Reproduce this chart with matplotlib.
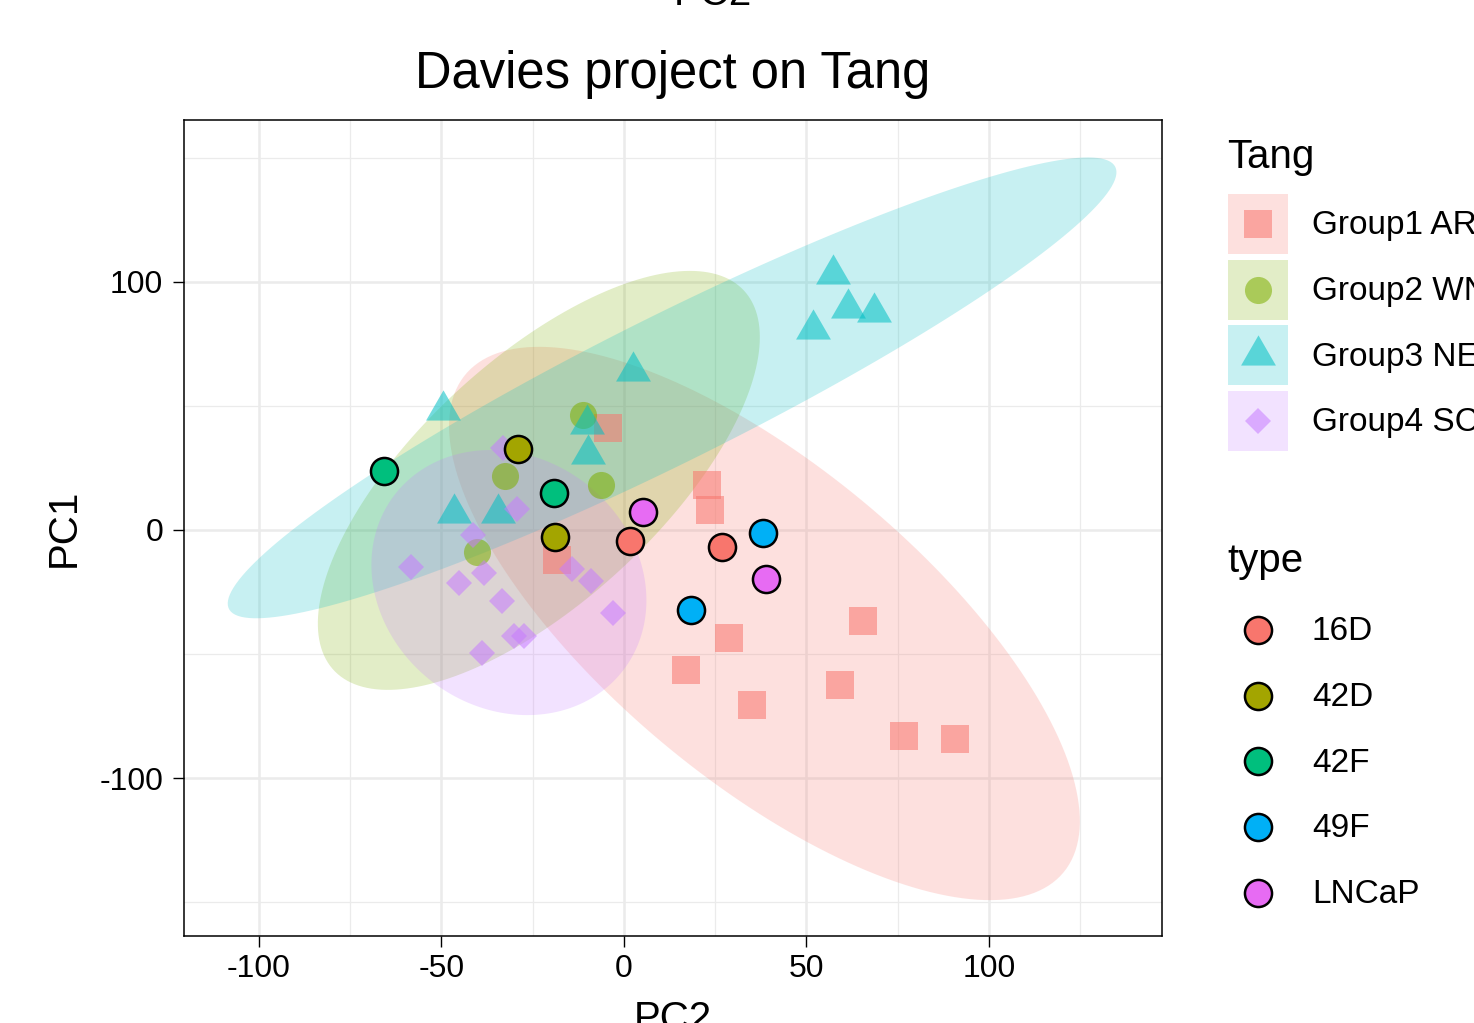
import numpy as np
import matplotlib
matplotlib.use("Agg")
import matplotlib.pyplot as plt
from matplotlib.lines import Line2D
from matplotlib.patches import Rectangle
from matplotlib.legend_handler import HandlerBase

plt.rcParams['font.family'] = ['Liberation Sans', 'DejaVu Sans']
plt.rcParams['axes.unicode_minus'] = False

# ---------------- data ----------------
groups = ["Group1 AR", "Group2 WNT", "Group3 NE", "Group4 SCL"]
group_colors = ["#F8766D", "#7CAE00", "#00BFC4", "#C77CFF"]

ar_x = [-4.4, 22.7, 23.6, -18.4, 65.5, 28.8, 17.0, 59.2, 35.1, 76.7, 90.7]
ar_y = [41.1, 18.1, 8.1, -12.0, -36.7, -43.5, -56.5, -62.5, -70.6, -83.1, -84.3]

wnt_x = [-11.2, -32.6, -6.3, -40.3]
wnt_y = [46.4, 21.8, 18.1, -8.7]

ne_x = [-49.6, 2.5, -10.2, -9.9, -46.5, -34.5, 57.3, 61.4, 68.5, 51.8]
ne_y = [48.4, 64.0, 42.7, 30.6, 6.9, 6.9, 103.2, 89.5, 87.9, 81.0]

scl_x = [-33.2, -29.4, -41.4, -58.2, -38.4, -45.1, -33.5, -14.1, -8.9, -2.9, -30.0, -27.3, -39.0]
scl_y = [33.1, 8.4, -2.2, -14.8, -17.5, -21.5, -28.6, -15.8, -20.6, -33.3, -42.6, -42.7, -49.7]

# ellipse (stat_ellipse-like) parameters per group: centre, two conjugate semi-axis vectors
ell_center = [(38.5, -37.7), (-23.3, 20.0), (13.2, 57.3), (-31.5, -21.2)]
ell_u = [(81.9, -100.4), (56.2, 76.5), (121.4, 89.1), (31.4, -35.2)]
ell_v = [(-27.5, -48.6), (22.5, -35.8), (8.9, -26.3), (-20.8, -40.2)]

types = ["16D", "42D", "42F", "49F", "LNCaP"]
type_colors = ["#F8766D", "#A3A500", "#00BF7D", "#00B0F6", "#E76BF3"]
type_x = [[1.6, 26.8], [-29.0, -18.9], [-65.8, -19.2], [38.1, 18.4], [5.3, 38.9]]
type_y = [[-4.4, -6.7], [32.7, -2.9], [23.8, 15.0], [-1.3, -32.3], [7.1, -19.8]]

x_ticks = [-100, -50, 0, 50, 100]
x_minor = [-75, -25, 25, 75, 125]
y_ticks = [-100, 0, 100]
y_minor = [-150, -50, 50, 150]

# ---------------- styles ----------------
tri = [(0, 1.155), (-1, -0.577), (1, -0.577)]
shapes = ['s', 'o', tri, 'D']
sizes = [19.5, 19.5, 29, 13]
pt_alpha = 0.55
ell_alpha = 0.22

W, H = 1474, 1023
fig = plt.figure(figsize=(W / 100, H / 100), dpi=100)
ax = fig.add_axes([184 / W, 1 - 936 / H, 978 / W, 816 / H])
ax.set_xlim(-120.5, 147.4)
ax.set_ylim(-163.7, 165.3)

ax.set_xticks(x_ticks)
ax.set_xticklabels([str(v) for v in x_ticks])
ax.set_xticks(x_minor, minor=True)
ax.set_yticks(y_ticks)
ax.set_yticklabels([str(v) for v in y_ticks])
ax.set_yticks(y_minor, minor=True)
ax.set_axisbelow(True)
ax.grid(which='major', color='#EBEBEB', lw=1.8)
ax.grid(which='minor', color='#EBEBEB', lw=0.9)
ax.tick_params(which='major', length=8, width=1.0, color='black', labelsize=23, labelcolor='black')
ax.tick_params(axis='x', pad=5)
ax.tick_params(axis='y', pad=7)
ax.tick_params(which='minor', length=0)
for s in ax.spines.values():
    s.set_linewidth(1.1)
    s.set_color('black')

# ellipses
t = np.linspace(0, 2 * np.pi, 200)
for c, u, v, col in zip(ell_center, ell_u, ell_v, group_colors):
    ex = c[0] + u[0] * np.cos(t) + v[0] * np.sin(t)
    ey = c[1] + u[1] * np.cos(t) + v[1] * np.sin(t)
    ax.fill(ex, ey, color=col, alpha=ell_alpha, lw=0, zorder=1)

# group points
gx = [ar_x, wnt_x, ne_x, scl_x]
gy = [ar_y, wnt_y, ne_y, scl_y]
group_handles = []
for xs, ys, col, mk, ms in zip(gx, gy, group_colors, shapes, sizes):
    ax.plot(xs, ys, linestyle='none', marker=mk, markersize=ms, color=col,
            markeredgewidth=0, alpha=pt_alpha, zorder=2)
    group_handles.append(Line2D([], [], linestyle='none', marker=mk, markersize=ms,
                                color=col, markeredgewidth=0, alpha=pt_alpha))

# type points
type_handles = []
for xs, ys, col in zip(type_x, type_y, type_colors):
    ax.plot(xs, ys, linestyle='none', marker='o', markersize=19.5, markerfacecolor=col,
            markeredgecolor='black', markeredgewidth=1.8, zorder=3)
    type_handles.append(Line2D([], [], linestyle='none', marker='o', markersize=19.5,
                               markerfacecolor=col, markeredgecolor='black', markeredgewidth=1.8))

# labels
ax.set_title("Davies project on Tang", fontsize=36.5, pad=23)
ax.set_xlabel("PC2", fontsize=29, va='top')
ax.xaxis.set_label_coords(0.5, -0.079)
ax.set_ylabel("PC1", fontsize=29, va='center')
ax.yaxis.set_label_coords(-0.123, 0.5)
fig.text(713 / W, 1 - 5 / H, "PC2", fontsize=29, ha='center', va='baseline')


class KeyHandler(HandlerBase):
    def __init__(self, bg=None, bg_alpha=0.22):
        super().__init__()
        self.bg = bg
        self.bg_alpha = bg_alpha

    def create_artists(self, legend, orig, xd, yd, w, h, fs, trans):
        arts = []
        if self.bg is not None:
            arts.append(Rectangle((-xd, -yd), w, h, facecolor=self.bg, alpha=self.bg_alpha,
                                  edgecolor='none', transform=trans))
        m = Line2D([-xd + w / 2], [-yd + h / 2])
        m.update_from(orig)
        m.set_transform(trans)
        arts.append(m)
        return arts


leg_kw = dict(frameon=False, fontsize=24, handlelength=1.8, handleheight=2.392,
              labelspacing=0.17, handletextpad=0.72, borderpad=0, borderaxespad=0,
              loc='upper left', bbox_transform=fig.transFigure)

leg1 = ax.legend(group_handles, groups, bbox_to_anchor=(1228 / W, 1 - 194 / H),
                 handler_map={h: KeyHandler(c, ell_alpha) for h, c in zip(group_handles, group_colors)},
                 **leg_kw)
ax.add_artist(leg1)
leg2 = ax.legend(type_handles, types, bbox_to_anchor=(1228 / W, 1 - 600 / H),
                 handler_map={h: KeyHandler(None) for h in type_handles}, **leg_kw)

fig.text(1227 / W, 1 - 168 / H, "Tang", fontsize=29, va='baseline', ha='left')
fig.text(1227 / W, 1 - 572 / H, "type", fontsize=29, va='baseline', ha='left')

fig.savefig("out.png", dpi=100)
